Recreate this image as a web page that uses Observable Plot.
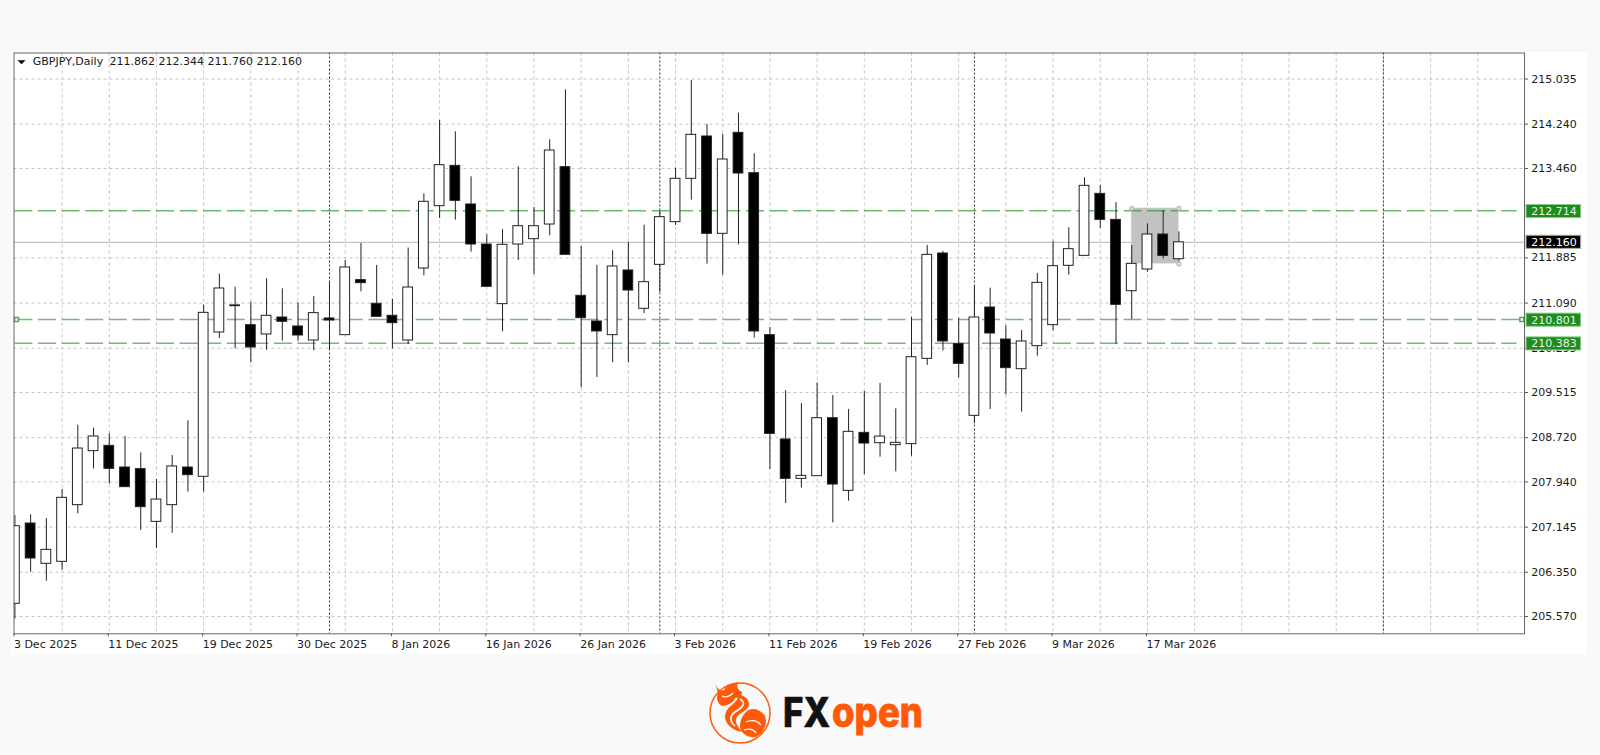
<!DOCTYPE html>
<html>
<head>
<meta charset="utf-8">
<script src="https://cdn.jsdelivr.net/npm/d3@7"></script>
<script src="https://cdn.jsdelivr.net/npm/@observablehq/plot@0.6"></script>
<style>
  html, body { margin: 0; padding: 0; background: #f9f9f9; width: 1600px; height: 755px; overflow: hidden; }
  #panel { position: absolute; left: 11px; top: 52px; width: 1576px; height: 603px; background: #fff; }
  #panel svg { display: block; overflow: visible; }
  #logo { position: absolute; left: 680px; top: 660px; }
</style>
</head>
<body>
<div id="panel"></div>
<svg id="logo" width="260" height="95" viewBox="0 0 260 95">
  <circle cx="60" cy="53" r="30" fill="none" stroke="#ff5a0a" stroke-width="1.5"/>
  <path fill="#ff5a0a" d="M35 23 C37 29 40 31 44 30 C47 25 52 24 58 22 C56 27 58 30 62 32 C62 36 58 38 55 38 C54 42 48 46 42 46 C37 43 36 38 38 33 Z"/>
  <path fill="#ff5a0a" d="M58 34 C70 37 73 46 63 52 C56 56 52 60 62 72 C50 70 41 60 47 50 C51 44 59 42 58 34 Z"/>
  <path fill="#ff5a0a" d="M66 52 C70 47 80 48 85 56 C88 64 84 72 76 77 C68 78 62 74 60 68 C60 60 62 56 66 52 Z"/>
  <path fill="none" stroke="#fff" stroke-width="1.6" d="M60 39 C67 43 62 48 55 52 C49 56 50 62 55 66"/>
  <path fill="none" stroke="#fff" stroke-width="1.2" d="M66 62 C72 59 78 61 81 65 M64 70 C70 68 74 70 76 73 M42 36 C46 38 50 36 53 33"/>
  <text x="103" y="67" font-family="Inter" font-weight="800" font-size="41" fill="#111" stroke="#111" stroke-width="0.6" textLength="47" lengthAdjust="spacingAndGlyphs">FX</text>
  <text x="152" y="67" font-family="Inter" font-weight="800" font-size="41" fill="#ff5a0a" stroke="#ff5a0a" stroke-width="0.8" textLength="91" lengthAdjust="spacingAndGlyphs">open</text>
</svg>
<script>
const symbolLabel = "GBPJPY,Daily";
const lastOHLC = ["211.862", "212.344", "211.760", "212.160"];

const opens = [205.795,207.209,206.499,206.534,207.532,208.483,208.576,208.195,208.166,207.238,207.532,208.195,208.031,210.572,211.035,210.701,210.537,210.836,210.678,210.431,210.819,210.525,211.494,211.077,210.866,210.431,211.699,212.796,213.506,212.826,212.121,211.071,212.121,212.215,212.473,213.483,211.218,210.766,210.525,211.664,210.989,211.763,212.515,213.278,214.023,212.309,214.088,213.377,210.525,208.688,207.995,208.042,209.063,207.784,208.805,208.623,208.588,208.606,210.108,211.963,210.372,209.105,211.012,210.449,209.926,210.331,210.701,211.746,211.921,213.013,212.555,211.299,211.681,212.297,211.862];
const highs = [207.350,207.361,207.297,207.808,208.940,208.887,208.788,208.741,208.453,207.984,208.406,209.017,211.053,211.599,211.370,211.106,211.517,211.341,211.094,211.206,211.452,211.840,212.139,211.752,211.159,212.060,213.013,214.305,214.105,213.313,212.291,212.385,213.489,212.773,213.964,214.845,212.086,211.752,212.010,212.157,212.462,212.708,213.465,215.009,214.234,214.058,214.434,213.718,210.660,209.550,209.321,209.679,209.462,209.216,209.533,209.674,209.228,210.842,212.104,212.000,210.824,211.388,211.353,210.689,210.607,211.611,212.174,212.415,213.295,213.160,212.860,212.103,212.485,212.720,212.344];
const lows = [205.525,206.352,206.194,206.393,207.379,208.171,207.901,207.849,207.086,206.769,207.039,207.761,207.761,210.467,210.285,210.038,210.261,210.420,210.420,210.249,210.255,210.525,211.288,210.848,210.285,210.361,211.570,212.579,212.550,211.986,211.376,210.584,211.840,211.587,212.274,211.939,209.598,209.780,210.038,210.038,210.906,211.276,212.456,212.902,211.775,211.581,212.115,210.472,208.159,207.561,207.831,208.042,207.220,207.602,208.066,208.377,208.118,208.394,209.991,210.249,209.774,208.964,209.216,209.475,209.169,210.155,210.601,211.581,211.921,212.403,210.366,210.800,211.634,211.869,211.760];
const closes = [207.162,206.593,206.745,207.661,208.529,208.741,208.171,207.849,207.497,207.631,208.213,208.060,210.918,211.347,211.050,210.308,210.866,210.760,210.519,210.913,210.783,211.717,211.441,210.848,210.736,211.364,212.873,213.518,212.890,212.121,211.376,212.116,212.444,212.444,213.776,211.939,210.824,210.590,211.734,211.311,211.458,212.603,213.278,214.052,212.309,213.618,213.371,210.590,208.787,207.995,208.048,209.063,207.895,208.823,208.617,208.740,208.629,210.137,211.939,210.414,210.020,210.836,210.554,209.944,210.414,211.446,211.740,212.039,213.154,212.555,211.059,211.781,212.297,211.921,212.160];

const xTickIndex = [0,6,12,18,24,30,36,42,48,54,60,66,72];
const xTickLabels = ["3 Dec 2025","11 Dec 2025","19 Dec 2025","30 Dec 2025","8 Jan 2026","16 Jan 2026","26 Jan 2026","3 Feb 2026","11 Feb 2026","19 Feb 2026","27 Feb 2026","9 Mar 2026","17 Mar 2026"];
const xGridIndex = [3,6,9,12,15,18,21,24,27,30,33,36,39,42,45,48,51,54,57,60,63,66,69,72,75,78,81,84,87,90,93];
const monthSeparators = [20,41,61,87];
const yTicks = [215.035,214.240,213.460,211.885,211.090,210.295,209.515,208.720,207.940,207.145,206.350,205.570];
const levels = [212.714,210.801,210.383];
const bid = 212.160;
const zone = {i1: 71, i2: 74, hi: 212.76, lo: 211.78};

const candles = opens.map((o, i) => ({i, o, h: highs[i], l: lows[i], c: closes[i]}));
const halfBody = 0.31;
const ink = "#222";
const boxX = [96.1, 99.57], boxTextX = 96.4, boxHalf = 0.115;
const menuMark = {draw(c) { c.moveTo(-4, -2); c.lineTo(4, -2); c.lineTo(0, 2); c.closePath(); }};

const plot = Plot.plot({
  width: 1576,
  height: 603,
  marginLeft: 2.5,
  marginRight: 63,
  marginTop: 0.5,
  marginBottom: 21.7,
  style: {fontFamily: "'DejaVu Sans'", fontSize: "11px", color: "#1a1a1a", background: "transparent", overflow: "visible"},
  x: {type: "linear", domain: [-0.057, 95.97]},
  y: {type: "linear", domain: [205.267, 215.493]},
  marks: [
    Plot.gridX(xGridIndex, {stroke: "#c4c4c4", strokeOpacity: 1, strokeDasharray: "3,3"}),
    Plot.gridY(yTicks, {stroke: "#c4c4c4", strokeOpacity: 1, strokeDasharray: "3,3"}),
    Plot.rect([zone], {x1: d => d.i1, x2: d => d.i2, y1: d => d.lo, y2: d => d.hi, fill: "#c2c2c2"}),
    Plot.ruleY([bid], {stroke: "#c4c4c4", strokeWidth: 1.2}),
    Plot.ruleX(monthSeparators, {stroke: "#333", strokeDasharray: "2,2"}),
    Plot.ruleY(levels.slice(0, 1), {stroke: "#1e9a1e", strokeWidth: 1, strokeDasharray: "18,5.6", x1: 0, x2: 95.5}),
    Plot.ruleY(levels.slice(1, 2), {stroke: "#78b878", strokeWidth: 1.5, strokeDasharray: "18,5.6", x1: 0, x2: 95.8}),
    Plot.ruleY(levels.slice(2), {stroke: "#78b878", strokeWidth: 1.5, strokeDasharray: "18,5.6", x1: 0, x2: 95.5}),
    Plot.dot([0.1, 95.8], {x: d => d, y: () => levels[1], symbol: "square", r: 2.2, fill: "#fff", stroke: "#4ea64e"}),
    Plot.ruleX(candles, {x: "i", y1: "l", y2: "h", stroke: ink, strokeWidth: 1, clip: true}),
    Plot.rect(candles, {
      x1: d => d.i - halfBody, x2: d => d.i + halfBody,
      y1: d => Math.min(d.o, d.c), y2: d => Math.max(d.o, d.c),
      fill: d => d.c >= d.o ? "#fff" : "#000", stroke: ink, strokeWidth: 1, clip: true
    }),
    Plot.dot([[zone.i1, zone.hi], [zone.i2, zone.hi], [zone.i2, zone.lo]], {x: d => d[0], y: d => d[1], r: 1.8, fill: "#f4f4f4", stroke: "#bbb"}),
    Plot.frame({stroke: "#666"}),
    Plot.axisX({ticks: xTickIndex, anchor: "bottom", label: null, tickSize: 3, tickPadding: 3, textAnchor: "start", dx: -1, stroke: "#555", fontSize: 11,
      tickFormat: i => xTickLabels[xTickIndex.indexOf(i)]}),
    Plot.axisY({ticks: yTicks, anchor: "right", label: null, tickSize: 3, tickPadding: 3.7, stroke: "#555", fontSize: 11,
      tickFormat: d => d.toFixed(3)}),
    Plot.rect(levels, {x1: () => boxX[0], x2: () => boxX[1], y1: d => d - boxHalf, y2: d => d + boxHalf, dy: 0.7, fill: "#1f8c1f", stroke: "#8cc78c"}),
    Plot.rect([bid], {x1: () => boxX[0], x2: () => boxX[1], y1: d => d - boxHalf, y2: d => d + boxHalf, fill: "#000", stroke: "#aaa"}),
    Plot.text(levels, {x: () => boxTextX, y: d => d, dy: 0.7, text: d => d.toFixed(3), textAnchor: "start", fill: "#e8f5e8", fontSize: 11}),
    Plot.text([bid], {x: () => boxTextX, y: d => d, text: d => d.toFixed(3), textAnchor: "start", fill: "#fff", fontSize: 11}),
    Plot.dot([0], {frameAnchor: "top-left", dx: 7.5, dy: 9.3, symbol: menuMark, fill: "#000"}),
    Plot.text([symbolLabel], {frameAnchor: "top-left", dx: 18.8, dy: 4, text: d => d, fontSize: 11}),
    Plot.text([lastOHLC.join(" ")], {frameAnchor: "top-left", dx: 95.5, dy: 4, text: d => d, fontSize: 11})
  ]
});
document.getElementById("panel").appendChild(plot);
</script>
</body>
</html>
